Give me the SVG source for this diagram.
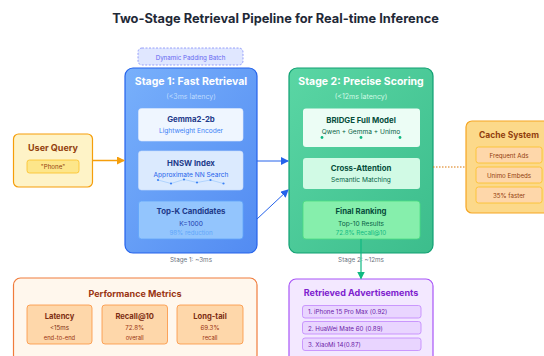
<svg xmlns="http://www.w3.org/2000/svg" width="544" height="356" viewBox="0 0 544 356">
<style>
text{font-family:Inter,"Liberation Sans",sans-serif;text-anchor:middle}
.title{font-size:12.8px;font-weight:700;fill:#1f2937}
.stitle{font-size:10.5px;font-weight:700;fill:#ffffff}
.lat1{font-size:7px;fill:#bfdbfe}
.lat2{font-size:7px;fill:#d1fae5}
.bt{font-size:7.8px;font-weight:700}
.st{font-size:6.6px}
.sm{font-size:6.2px}
.cap{font-size:6.3px;fill:#6b7280}
.hd{font-size:9px;font-weight:700}
.mt{font-size:7.6px;font-weight:700;fill:#7c2d12}
</style>
<defs>
<linearGradient id="g1" x1="0" y1="0" x2="1" y2="1">
<stop offset="0" stop-color="#78b0fb"/>
<stop offset="1" stop-color="#528bf2"/>
</linearGradient>
<linearGradient id="g2" x1="0" y1="0" x2="1" y2="1">
<stop offset="0" stop-color="#5ad6a4"/>
<stop offset="1" stop-color="#3cbd8c"/>
</linearGradient>
<marker id="ab" markerWidth="8" markerHeight="8" refX="7" refY="4" orient="auto" markerUnits="userSpaceOnUse">
<path d="M0,0 L8,4 L0,8 Z" fill="#2563eb"/>
</marker>
<marker id="ao" markerWidth="8" markerHeight="8" refX="7" refY="4" orient="auto" markerUnits="userSpaceOnUse">
<path d="M0,0 L8,4 L0,8 Z" fill="#f59e0b"/>
</marker>
<marker id="ag" markerWidth="8" markerHeight="8" refX="7" refY="4" orient="auto" markerUnits="userSpaceOnUse">
<path d="M0,0 L8,4 L0,8 Z" fill="#10b981"/>
</marker>
</defs>
<rect width="544" height="356" fill="#ffffff"/>
<text class="title" x="275.5" y="23">Two-Stage Retrieval Pipeline for Real-time Inference</text>

<g id="batch">
<rect x="138" y="48" width="105" height="17" rx="4" fill="#e0e7ff" stroke="#818cf8" stroke-width="0.8" stroke-dasharray="2,1.5"/>
<text x="190.5" y="59.5" class="sm" fill="#6366f1">Dynamic Padding Batch</text>
</g>

<g id="stage1">
<rect x="125" y="68" width="132" height="185" rx="8" fill="url(#g1)" stroke="#2563eb" stroke-width="1.2"/>
<text x="191" y="85" class="stitle">Stage 1: Fast Retrieval</text>
<text x="191" y="98.5" class="lat1">(&lt;3ms latency)</text>
<rect x="138.5" y="108.5" width="104.5" height="32.5" rx="3" fill="#eff6ff" stroke="#dbeafe" stroke-width="0.6"/>
<text x="191" y="121.5" class="bt" fill="#1e3a8a">Gemma2-2b</text>
<text x="191" y="133" class="st" fill="#3b82f6">Lightweight Encoder</text>
<rect x="138.5" y="151" width="104.5" height="39" rx="3" fill="#dbeafe" stroke="#c7dcfb" stroke-width="0.6"/>
<text x="191" y="165.5" class="bt" fill="#1e3a8a">HNSW Index</text>
<text x="191" y="176.5" class="st" fill="#2563eb">Approximate NN Search</text>
<polyline points="158,180 171,183.5 184,179.5 197,182.5 210.5,180 223.5,183.5" fill="none" stroke="#93c5fd" stroke-width="0.6"/>
<g fill="#3b82f6">
<circle cx="158" cy="180" r="1.1"/><circle cx="171" cy="183.5" r="1.1"/><circle cx="184" cy="179.5" r="1.1"/><circle cx="197" cy="182.5" r="1.1"/><circle cx="210.5" cy="180" r="1.1"/><circle cx="223.5" cy="183.5" r="1.1"/>
</g>
<rect x="138.5" y="201" width="104.5" height="38" rx="3" fill="#93c5fd" stroke="#60a5fa" stroke-width="0.8"/>
<text x="191" y="213.5" class="bt" fill="#1e3a8a">Top-K Candidates</text>
<text x="191" y="225.5" class="st" fill="#1e40af">K=1000</text>
<text x="191" y="235" class="sm" fill="#60a5fa">98% reduction</text>
<text x="191" y="262" class="cap">Stage 1: ~3ms</text>
</g>

<g id="query">
<rect x="13.5" y="134" width="79" height="53" rx="5" fill="#fef3c7" stroke="#f59e0b" stroke-width="1.2"/>
<text x="53" y="150.5" class="hd" fill="#92400e">User Query</text>
<rect x="27" y="160" width="52" height="13" rx="2.5" fill="#fde68a" stroke="#fbbf24" stroke-width="0.8"/>
<text x="53" y="169" class="sm" fill="#92400e">"Phone"</text>
</g>

<g id="stage2">
<rect x="289" y="68" width="144" height="185" rx="8" fill="url(#g2)" stroke="#10a073" stroke-width="1.2"/>
<text x="361" y="85" class="stitle">Stage 2: Precise Scoring</text>
<text x="361" y="98.5" class="lat2">(&lt;12ms latency)</text>
<rect x="303" y="108.5" width="117" height="38.5" rx="3" fill="#ecfdf5"/>
<text x="361" y="123" class="bt" fill="#064e3b">BRIDGE Full Model</text>
<text x="361" y="134" class="st" fill="#065f46">Qwen + Gemma + Unimo</text>
<g fill="#10b981">
<circle cx="322" cy="137.5" r="1.4"/><circle cx="361" cy="137.5" r="1.4"/><circle cx="400" cy="137.5" r="1.4"/>
</g>
<rect x="303" y="158" width="117" height="31" rx="3" fill="#d1fae5"/>
<text x="361" y="170.5" class="bt" fill="#064e3b">Cross-Attention</text>
<text x="361" y="182" class="st" fill="#065f46">Semantic Matching</text>
<rect x="303" y="201" width="117" height="38" rx="3" fill="#86efac" stroke="#4ade80" stroke-width="0.8"/>
<text x="361" y="213.5" class="bt" fill="#064e3b">Final Ranking</text>
<text x="361" y="225.5" class="st" fill="#065f46">Top-10 Results</text>
<text x="361" y="235" class="sm" fill="#10b981">72.8% Recall@10</text>
<text x="361" y="262" class="cap">Stage 2: ~12ms</text>
</g>

<g id="cache">
<rect x="466" y="121" width="86" height="92" rx="6" fill="#fcd98a" stroke="#f5a623" stroke-width="1.2"/>
<text x="509" y="138" class="bt" fill="#92400e" style="font-size:8.5px">Cache System</text>
<rect x="476" y="147" width="66" height="16" rx="2.5" fill="#fed7aa" stroke="#fbbf24" stroke-width="0.8"/>
<text x="509" y="157.5" class="sm" fill="#92400e">Frequent Ads</text>
<rect x="476" y="167" width="66" height="16" rx="2.5" fill="#fed7aa" stroke="#fbbf24" stroke-width="0.8"/>
<text x="509" y="177.5" class="sm" fill="#92400e">Unimo Embeds</text>
<rect x="476" y="187" width="66" height="16" rx="2.5" fill="#fed7aa" stroke="#fbbf24" stroke-width="0.8"/>
<text x="509" y="197.5" class="sm" fill="#92400e">35% faster</text>
</g>

<g id="metrics">
<rect x="13.5" y="278" width="243.5" height="84" rx="7" fill="#fff7ed" stroke="#f07c3c" stroke-width="1.2"/>
<text x="135" y="296.5" class="hd" fill="#9a3412">Performance Metrics</text>
<rect x="27" y="305" width="65" height="39" rx="3" fill="#fed7aa" stroke="#fb923c" stroke-width="0.8"/>
<text x="59.5" y="318.5" class="mt">Latency</text>
<text x="59.5" y="330" class="sm" fill="#7c2d12">&lt;15ms</text>
<text x="59.5" y="340" class="sm" fill="#9a3412" style="font-size:5.8px">end-to-end</text>
<rect x="102" y="305" width="65.5" height="39" rx="3" fill="#fed7aa" stroke="#fb923c" stroke-width="0.8"/>
<text x="134.7" y="318.5" class="mt">Recall@10</text>
<text x="134.7" y="330" class="sm" fill="#9a3412">72.8%</text>
<text x="134.7" y="340" class="sm" fill="#9a3412" style="font-size:5.8px">overall</text>
<rect x="177" y="305" width="66" height="39" rx="3" fill="#fed7aa" stroke="#fb923c" stroke-width="0.8"/>
<text x="210" y="318.5" class="mt">Long-tail</text>
<text x="210" y="330" class="sm" fill="#9a3412">69.3%</text>
<text x="210" y="340" class="sm" fill="#9a3412" style="font-size:5.8px">recall</text>
</g>

<g id="results">
<rect x="289" y="279" width="144" height="84" rx="7" fill="#f3e8ff" stroke="#a855f7" stroke-width="1.2"/>
<text x="361" y="295.5" class="hd" fill="#7e22ce">Retrieved Advertisements</text>
<rect x="302.5" y="305.5" width="118.5" height="12.5" rx="2.5" fill="#e9d5ff" stroke="#c084fc" stroke-width="0.8"/>
<text x="308" y="314" class="sm" fill="#6b21a8" style="text-anchor:start">1. iPhone 15 Pro Max (0.92)</text>
<rect x="302.5" y="321.5" width="118.5" height="12.5" rx="2.5" fill="#e9d5ff" stroke="#c084fc" stroke-width="0.8"/>
<text x="308" y="330.5" class="sm" fill="#6b21a8" style="text-anchor:start">2. HuaWei Mate 60 (0.89)</text>
<rect x="302.5" y="338" width="118.5" height="12.5" rx="2.5" fill="#e9d5ff" stroke="#c084fc" stroke-width="0.8"/>
<text x="308" y="347" class="sm" fill="#6b21a8" style="text-anchor:start">3. XiaoMi 14(0.87)</text>
</g>

<g id="connectors">
<line x1="92.5" y1="160.5" x2="124" y2="160.5" stroke="#f59e0b" stroke-width="1.5" marker-end="url(#ao)"/>
<line x1="257" y1="161" x2="288" y2="161" stroke="#2563eb" stroke-width="1" marker-end="url(#ab)"/>
<line x1="257" y1="219" x2="288" y2="190" stroke="#2563eb" stroke-width="1" marker-end="url(#ab)"/>
<line x1="433" y1="167" x2="466" y2="167" stroke="#d97706" stroke-width="1" stroke-dasharray="1.5,1.5"/>
<line x1="361" y1="239" x2="361" y2="278.5" stroke="#10b981" stroke-width="1.2" marker-end="url(#ag)"/>
</g>
</svg>
